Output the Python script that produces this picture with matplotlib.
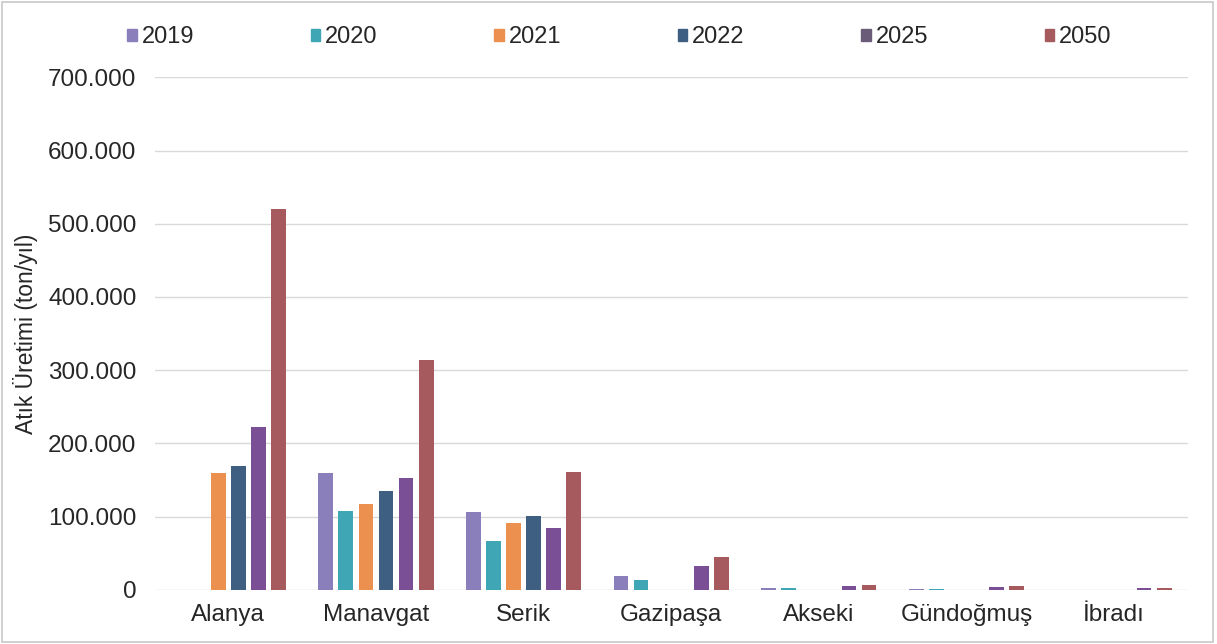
import numpy as np
import matplotlib.pyplot as plt
from matplotlib.ticker import FuncFormatter

plt.rcParams['font.family'] = ['Liberation Sans', 'DejaVu Sans']

districts = ["Alanya", "Manavgat", "Serik", "Gazipaşa", "Akseki", "Gündoğmuş", "İbradı"]
years = ["2019", "2020", "2021", "2022", "2025", "2050"]

# ton/yil, 0 = no bar drawn
v2019 = [0, 160000, 106000, 19000, 2000, 1500, 0]
v2020 = [0, 108000, 67000, 14000, 2000, 1500, 0]
v2021 = [160000, 117000, 91000, 0, 0, 0, 0]
v2022 = [169000, 135000, 101000, 0, 0, 0, 0]
v2025 = [222000, 153000, 85000, 32000, 5000, 4000, 2500]
v2050 = [520000, 314000, 161000, 45000, 7000, 5000, 3000]
series = [v2019, v2020, v2021, v2022, v2025, v2050]

colors = ["#8a7fbb", "#3ea6b5", "#ec9050", "#3e5f82", "#7b4f95", "#a65a5e"]
legend_colors = ["#8a7fbb", "#3ea6b5", "#ec9050", "#3e5f82", "#6a5c78", "#a65a5e"]

fig = plt.figure(figsize=(12.17, 6.44), dpi=100)
ax = fig.add_axes([0.127, 0.084, 0.849, 0.796])

x = np.arange(len(districts))
step = 0.136
width = 0.1
for i, (vals, c) in enumerate(zip(series, colors)):
    ax.bar(x + (i - 2.5) * step, vals, width, color=c, zorder=3)

ax.set_xlim(-0.5, len(districts) - 0.5)
ax.set_ylim(0, 700000)
ax.set_yticks(np.arange(0, 700001, 100000))
ax.yaxis.set_major_formatter(FuncFormatter(lambda v, p: f"{int(v):,}".replace(",", ".")))
ax.set_xticks(x)
ax.set_xticklabels(districts)
ax.tick_params(axis='both', length=0, labelsize=17.5, colors="#262626")
ax.tick_params(axis='y', pad=13)
ax.tick_params(axis='x', pad=10)
ax.grid(axis='y', color="#d9d9d9", linewidth=1, zorder=0)
for s in ax.spines.values():
    s.set_visible(False)
ax.set_ylabel("Atık Üretimi (ton/yıl)", fontsize=16.5, color="#262626", labelpad=7)

handles = [plt.Rectangle((0, 0), 1, 1, color=c) for c in legend_colors]
fig.legend(handles, years, loc='center', bbox_to_anchor=(0.509, 0.942), ncol=6,
           frameon=False, fontsize=17, handlelength=0.4, handleheight=0.45,
           handletextpad=0.2, columnspacing=4.95, labelcolor="#262626")

fig.patches.append(plt.Rectangle((0.002, 0.003), 0.995, 0.994, transform=fig.transFigure,
                                 fill=False, edgecolor="#c8c8c8", linewidth=1.2))

fig.savefig("out.png", dpi=100)
